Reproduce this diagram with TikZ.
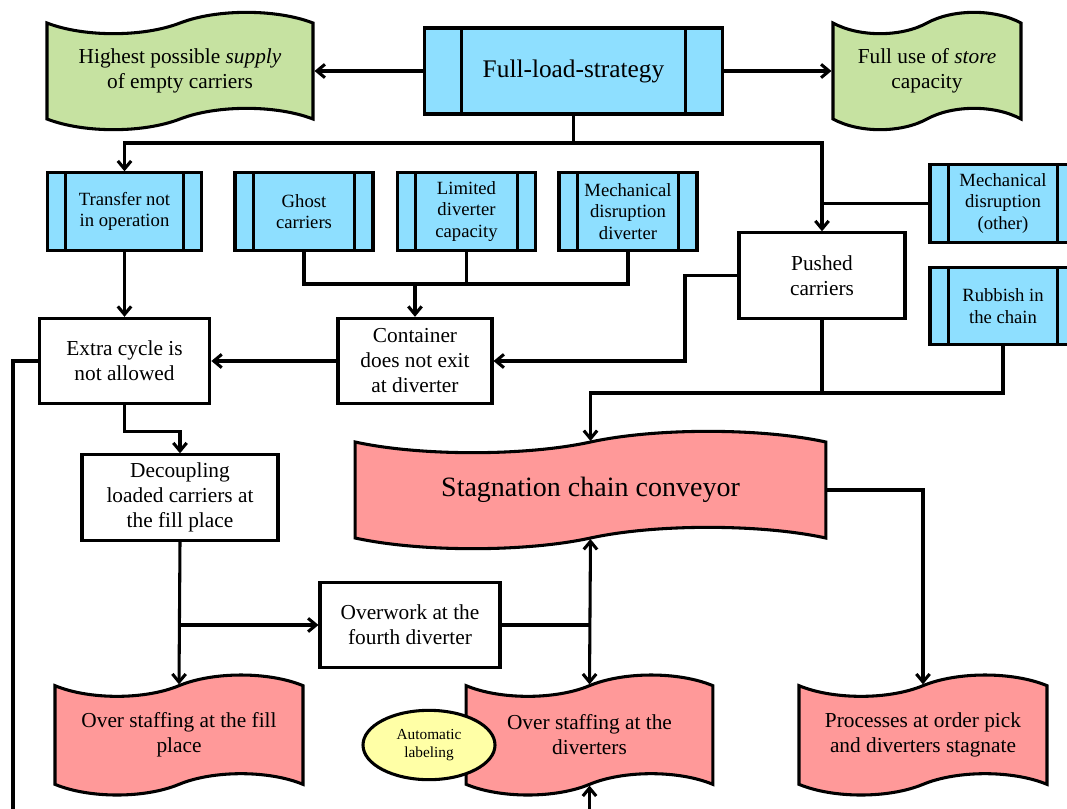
\documentclass[tikz,border=0pt]{standalone}
\usepackage{fontspec}
\setmainfont{Liberation Serif}
\usetikzlibrary{shapes.symbols,shapes.geometric,arrows.meta,calc}
\definecolor{procblue}{RGB}{142,223,255}
\definecolor{goalgreen}{RGB}{198,226,161}
\definecolor{effectred}{RGB}{255,153,153}
\definecolor{noteyellow}{RGB}{255,255,166}
\tikzset{
	base/.style={draw, line width=2.3pt, align=center, inner sep=2pt},
	procbox/.style={base, fill=procblue, font=\fontsize{14}{16}\selectfont, minimum height=58pt,
		path picture={
			\draw[line width=2.3pt] ([xshift=#1]path picture bounding box.north west) -- ([xshift=#1]path picture bounding box.south west);
			\draw[line width=2.3pt] ([xshift=-#1]path picture bounding box.north east) -- ([xshift=-#1]path picture bounding box.south east);
		}},
	procbox/.default=14pt,
	plainbox/.style={base, fill=white, font=\fontsize{16}{18.75}\selectfont, minimum height=64pt},
	tapebox/.style={base, shape=tape, tape bend height=16pt, font=\fontsize{16}{18.75}\selectfont, minimum height=88pt},
	conn/.style={line width=2.3pt},
	arr/.style={conn, -{Straight Barb[length=6pt,width=10pt]}},
	twoarr/.style={conn, {Straight Barb[length=6pt,width=10pt]}-{Straight Barb[length=6pt,width=10pt]}},
}
\begin{document}
\begin{tikzpicture}[x=0.75pt, y=-0.75pt]
	\useasboundingbox (0,0) rectangle (1067,808);
	%
	\node[procbox=28pt, font=\fontsize{19}{22}\selectfont, minimum width=224pt, minimum height=64.5pt] (fls) at (573.5,71) {Full-load-strategy};
	\node[tapebox, fill=goalgreen, minimum width=199.5pt] (supply) at (180,71) {Highest possible \emph{supply}\\of empty carriers};
	\node[tapebox, fill=goalgreen, minimum width=141pt] (store) at (927,71) {Full use of \emph{store}\\capacity};
	%
	\node[procbox, minimum width=116pt] (transfer) at (124.5,211.5) {Transfer not\\in operation};
	\node[procbox, minimum width=103.5pt] (ghost) at (304,211.5) {Ghost\\carriers};
	\node[procbox, minimum width=104pt] (limited) at (466.5,211.5) {Limited\\diverter\\capacity};
	\node[procbox, minimum width=103.5pt] (mechdiv) at (628,211.5) {Mechanical\\disruption\\diverter};
	\node[procbox, minimum width=109.5pt] (mechother) at (1003,203.5) {Mechanical\\disruption\\(other)};
	\node[procbox, minimum width=109.5pt] (rubbish) at (1003,306) {Rubbish in\\the chain};
	%
	\node[plainbox, minimum width=128pt] (extra) at (124.5,361) {Extra cycle is\\not allowed};
	\node[plainbox, minimum width=115.5pt] (container) at (415,361) {Container\\does not exit\\at diverter};
	\node[plainbox, minimum width=124.5pt] (pushed) at (822,275.5) {Pushed\\carriers};
	\node[plainbox, minimum width=147pt] (decoupling) at (180,497.5) {Decoupling\\loaded carriers at\\the fill place};
	\node[plainbox, minimum width=135pt] (overwork) at (410,625) {Overwork at the\\fourth diverter};
	%
	\node[tapebox, fill=effectred, font=\fontsize{21}{24}\selectfont, minimum width=353pt] (stagnation) at (590.5,490) {Stagnation chain conveyor};
	\node[tapebox, fill=effectred, minimum width=186pt, minimum height=90pt] (osfill) at (179,735) {Over staffing at the fill\\place};
	\node[tapebox, fill=effectred, minimum width=185pt, minimum height=90pt] (osdiv) at (589.5,735) {Over staffing at the\\diverters};
	\node[tapebox, fill=effectred, minimum width=186pt, minimum height=90pt] (processes) at (923,735) {Processes at order pick\\and diverters stagnate};
	\node[base, ellipse, fill=noteyellow, font=\fontsize{11.5}{13.5}\selectfont, minimum width=99pt, minimum height=52pt, inner sep=0pt] (autolab) at (429,745) {Automatic\\labeling};
	%
	\coordinate (split) at (573.5,143);
	\coordinate (gather) at (0,284);
	\coordinate (bendA) at (685,275.5);
	\coordinate (join) at (590.5,393);
	\coordinate (leftout) at (13,812);
	\coordinate (bottomin) at (589.5,812);
	%
	\draw[arr] (fls.west) -- (supply.east);
	\draw[arr] (fls.east) -- (store.west);
	\draw[arr] (fls.south) -- (split) -| (transfer.north);
	\draw[arr] (split) -| (pushed.north);
	\draw[conn] (mechother.west) -- (mechother.west -| pushed.north);
	\draw[conn] (ghost.south) |- (mechdiv.south |- gather) -- (mechdiv.south);
	\draw[conn] (limited.south) -- (limited.south |- gather);
	\draw[arr] (container.north |- gather) -- (container.north);
	\draw[arr] (transfer.south) -- (extra.north);
	\draw[arr] (container.west) -- (extra.east);
	\draw[arr] (pushed.west) -- (bendA) |- (container.east);
	\draw[arr] (rubbish.south) |- (join) -- (stagnation.north);
	\draw[conn] (pushed.south) -- (pushed.south |- join);
	\draw[conn] (extra.west) -| (leftout);
	\draw[arr] (extra.south) -- ++(0,26) -| (decoupling.north);
	\draw[arr] (decoupling.south) -- (osfill.north);
	\draw[arr] (decoupling.south |- overwork.west) -- (overwork.west);
	\draw[conn] (overwork.east) -- (overwork.east -| osdiv.north);
	\draw[twoarr] (stagnation.south) -- (osdiv.north);
	\draw[arr] (stagnation.east) -| (processes.north);
	\draw[arr] (bottomin) -- (osdiv.south);
\end{tikzpicture}
\end{document}
